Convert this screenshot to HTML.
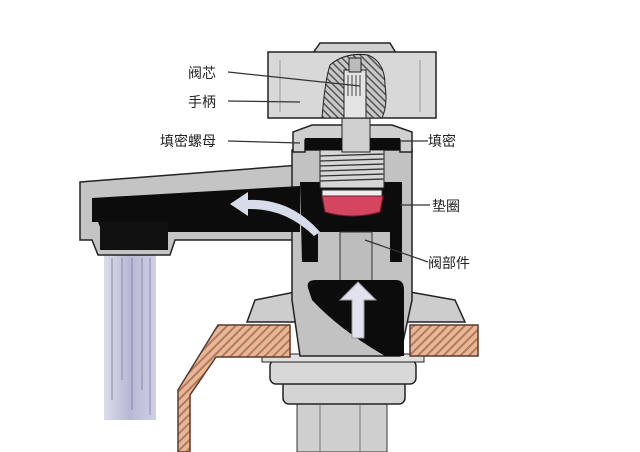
<!DOCTYPE html>
<html><head><meta charset="utf-8"><style>
html,body{margin:0;padding:0;background:#fff;}
svg{display:block}
text{font-family:"Liberation Sans","Noto Sans CJK SC",sans-serif;font-size:14px;fill:#222;}
</style></head><body>
<svg width="640" height="452" viewBox="0 0 640 452" xmlns="http://www.w3.org/2000/svg">
<defs>
<pattern id="wood" width="6" height="6" patternUnits="userSpaceOnUse" patternTransform="rotate(45)">
<rect width="6" height="6" fill="#e6b89a"/><rect width="2" height="6" fill="#b9785a"/></pattern>
<pattern id="hat" width="5" height="5" patternUnits="userSpaceOnUse" patternTransform="rotate(-45)">
<rect width="5" height="5" fill="#c8c8c8"/><rect width="1.5" height="5" fill="#555"/></pattern>
<linearGradient id="water" x1="0" x2="1"><stop offset="0" stop-color="#dcdcec"/><stop offset="0.5" stop-color="#b8b8d4"/><stop offset="1" stop-color="#cfd0e4"/></linearGradient>
</defs>
<rect x="104" y="252" width="52" height="168" fill="url(#water)"/>
<g stroke="#8a8aa8" stroke-width="1"><line x1="112" y1="258" x2="112" y2="400"/><line x1="122" y1="258" x2="122" y2="380"/><line x1="132" y1="258" x2="132" y2="410"/><line x1="142" y1="258" x2="142" y2="390"/><line x1="150" y1="258" x2="150" y2="415"/></g>
<rect x="297" y="400" width="90" height="52" fill="#cfcfcf" stroke="#333"/>
<line x1="320" y1="405" x2="320" y2="452" stroke="#777"/><line x1="360" y1="405" x2="360" y2="452" stroke="#777"/>
<rect x="283" y="380" width="122" height="24" rx="6" fill="#d4d4d4" stroke="#222" stroke-width="1.5"/>
<rect x="270" y="360" width="146" height="24" rx="6" fill="#d8d8d8" stroke="#222" stroke-width="1.5"/>
<rect x="262" y="354" width="162" height="8" fill="#e0e0e0" stroke="#222"/>
<path d="M218 325 L290 325 L290 357 L216 357 L190 395 L190 452 L178 452 L178 390 Z" fill="url(#wood)" stroke="#5a3a2a" stroke-width="1.5"/>
<rect x="410" y="325" width="68" height="31" fill="url(#wood)" stroke="#5a3a2a" stroke-width="1.5"/>
<path d="M247 322 L255 300 L295 292 L410 292 L455 300 L465 322 Z" fill="#cdcdcd" stroke="#222" stroke-width="1.5"/>
<path d="M80 182 L300 165 L300 240 L175 240 L170 255 L98 255 L92 240 L80 240 Z" fill="#c4c4c4" stroke="#222" stroke-width="1.5"/>
<path d="M292 150 L412 150 L412 300 L400 356 L300 356 L292 300 Z" fill="#c2c2c2" stroke="#222" stroke-width="1.5"/>
<path d="M92 198 L300 186 L300 232 L102 232 L98 222 L92 222 Z" fill="#0c0c0c"/>
<rect x="100" y="222" width="68" height="28" fill="#111"/>
<path d="M300 182 L402 182 L402 262 L390 262 L390 232 L318 232 L318 262 L302 262 Z" fill="#0c0c0c"/>
<path d="M340 232 L372 232 L372 290 L340 290 Z" fill="#bdbdbd" stroke="#333"/>
<path d="M308 288 Q306 280 316 280 L396 280 Q404 280 404 290 L404 356 L385 356 Q340 330 312 300 Z" fill="#0c0c0c"/>
<path d="M352 338 L352 300 L340 300 L358 282 L376 300 L364 300 L364 338 Z" fill="#e2e2ee" stroke="#999"/>
<path d="M320 232 Q290 198 248 200 L248 192 L230 204 L248 216 L248 209 Q285 208 314 236 Z" fill="#d8dcea"/>
<rect x="320" y="150" width="64" height="38" fill="#d6d6d6" stroke="#222"/>
<g stroke="#333" stroke-width="1.3"><line x1="320" y1="156" x2="384" y2="154"/><line x1="320" y1="161" x2="384" y2="159"/><line x1="320" y1="166" x2="384" y2="164"/><line x1="320" y1="171" x2="384" y2="169"/><line x1="320" y1="176" x2="384" y2="174"/><line x1="320" y1="181" x2="384" y2="179"/></g>
<rect x="322" y="190" width="60" height="6" fill="#eee" stroke="#333"/>
<path d="M322 196 L383 196 L380 212 Q352 220 325 212 Z" fill="#d6455f" stroke="#7a1a2a"/>
<path d="M293 145 L293 132 L312 125 L392 125 L412 132 L412 152 L400 152 L400 140 L305 140 L305 152 L293 152 Z" fill="#cfcfcf" stroke="#222" stroke-width="1.5"/>
<rect x="305" y="138" width="95" height="12" fill="#0c0c0c"/>
<rect x="342" y="72" width="28" height="80" fill="#d0d0d0" stroke="#222"/>
<path d="M313 53 L320 43 L390 43 L396 53 Z" fill="#d0d0d0" stroke="#222" stroke-width="1.5"/>
<rect x="268" y="52" width="168" height="66" fill="#d8d8d8" stroke="#222" stroke-width="1.5"/>
<path d="M322 118 Q325 80 330 65 Q345 52 368 55 Q385 62 385 85 Q388 105 382 118 Z" fill="url(#hat)" stroke="#222"/>
<rect x="344" y="70" width="22" height="48" fill="#e4e4e4" stroke="#222"/>
<rect x="349" y="58" width="12" height="14" fill="#bbb" stroke="#222"/>
<g stroke="#444"><line x1="348" y1="75" x2="348" y2="96"/><line x1="352" y1="75" x2="352" y2="96"/><line x1="356" y1="75" x2="356" y2="96"/><line x1="360" y1="75" x2="360" y2="96"/></g>
<line x1="280" y1="60" x2="280" y2="112" stroke="#999"/><line x1="420" y1="60" x2="420" y2="112" stroke="#999"/>
<g stroke="#333" stroke-width="1.2">
<line x1="228" y1="72" x2="360" y2="86"/>
<line x1="228" y1="101" x2="300" y2="102"/>
<line x1="228" y1="141" x2="300" y2="143"/>
<line x1="400" y1="141" x2="428" y2="141"/>
<line x1="400" y1="205" x2="430" y2="205"/>
<line x1="365" y1="240" x2="428" y2="262"/>
</g>
<text x="188" y="78">阀芯</text>
<text x="188" y="107">手柄</text>
<text x="160" y="146">填密螺母</text>
<text x="428" y="146">填密</text>
<text x="432" y="211">垫圈</text>
<text x="428" y="268">阀部件</text>
</svg>
</body></html>
